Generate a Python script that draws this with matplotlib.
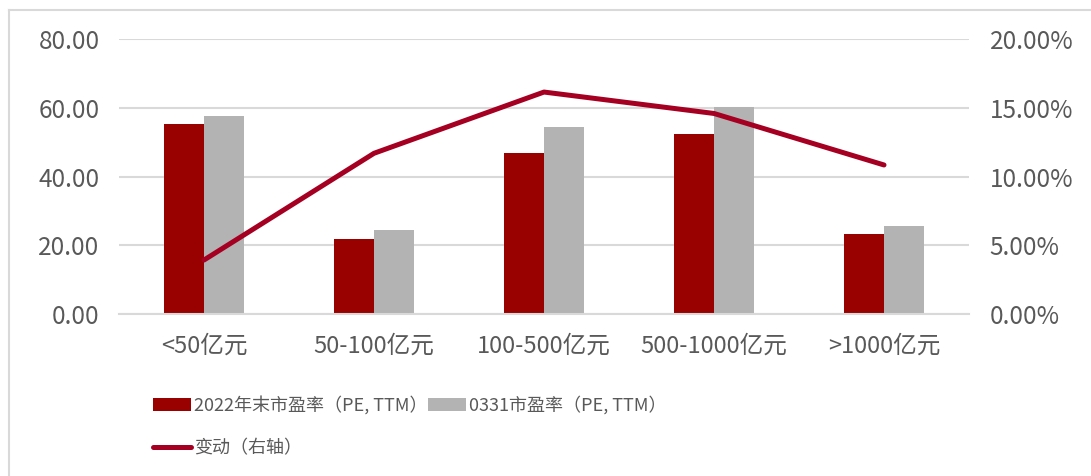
import matplotlib
matplotlib.use("Agg")
import matplotlib.pyplot as plt
import numpy as np
from matplotlib.ticker import FuncFormatter
from matplotlib.lines import Line2D

plt.rcParams['font.family'] = ['Noto Sans CJK SC', 'DejaVu Sans']

categories = ["<50亿元", "50-100亿元", "100-500亿元", "500-1000亿元", ">1000亿元"]
pe_2022 = [55.4, 21.8, 46.9, 52.5, 23.3]
pe_0331 = [57.7, 24.5, 54.4, 60.4, 25.6]
change_pct = [3.93, 11.7, 16.16, 14.6, 10.85]

label_2022 = "2022年末市盈率（PE, TTM）"
label_0331 = "0331市盈率（PE, TTM）"
label_change = "变动（右轴）"

red = "#990000"
gray = "#B3B3B3"
line_col = "#A50021"
txt = "#595959"
grid_col = "#D9D9D9"

W, H = 1091, 476
fig = plt.figure(figsize=(W/100, H/100), dpi=100)
ax = fig.add_axes([119/W, 1-314/H, (969-119)/W, (314-39.3)/H])
ax2 = ax.twinx()

x = np.arange(len(categories))
w = 0.236
b1 = ax.bar(x - w/2, pe_2022, width=w, color=red, label=label_2022, zorder=2)
b2 = ax.bar(x + w/2, pe_0331, width=w, color=gray, label=label_0331, zorder=2)
ln, = ax2.plot(x, change_pct, color=line_col, lw=3.6, solid_capstyle='round', label=label_change)

ax.set_xlim(-0.5, len(categories) - 0.5)
ax.set_ylim(0, 80)
ax.set_yticks([0, 20, 40, 60, 80])
ax.yaxis.set_major_formatter(FuncFormatter(lambda v, p: f"{v:.2f}"))
ax2.set_ylim(0, 20)
ax2.set_yticks([0, 5, 10, 15, 20])
ax2.yaxis.set_major_formatter(FuncFormatter(lambda v, p: f"{v:.2f}%"))

ax.grid(axis='y', color=grid_col, lw=1.5, zorder=0)
ax.set_axisbelow(True)
for a in (ax, ax2):
    for s in a.spines.values():
        s.set_visible(False)
    a.tick_params(length=0, labelsize=17.5, labelcolor=txt)
ax.spines['bottom'].set_visible(True)
ax.spines['bottom'].set_color(grid_col)
ax.spines['bottom'].set_linewidth(1.5)
ax.tick_params(axis='y', pad=14)
ax2.tick_params(axis='y', pad=15)
ax.set_xticks(x)
ax.set_xticklabels(categories, fontsize=17, color=txt)
ax.tick_params(axis='x', pad=15)

leg_font = {'family': ['Noto Sans CJK SC', 'DejaVu Sans'], 'size': 13}
def add_leg(h, lab, px, py):
    lg = fig.legend([h], [lab], loc='center left', bbox_to_anchor=(px/W, 1-py/H),
                    frameon=False, prop=leg_font, handlelength=2.1, handleheight=0.75,
                    handletextpad=0.15, borderpad=0, borderaxespad=0)
    for t in lg.get_texts():
        t.set_color(txt)
    return lg

add_leg(b1, label_2022, 153, 405)
add_leg(b2, label_0331, 428, 405)
add_leg(ln, label_change, 153, 448)

# outer frame
fig.add_artist(Line2D([9/W, 9/W], [0, 1-10/H], transform=fig.transFigure, color=grid_col, lw=1.5))
fig.add_artist(Line2D([9/W, 1], [1-10/H, 1-10/H], transform=fig.transFigure, color=grid_col, lw=1.5))

fig.savefig("out.png", dpi=100, facecolor='white')
